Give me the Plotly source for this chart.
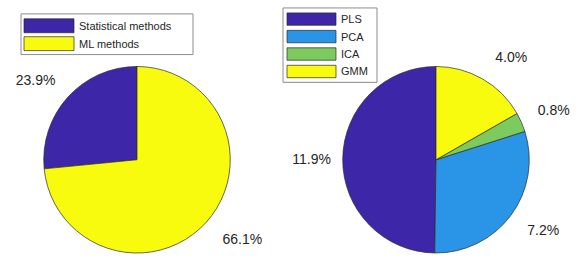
import math
import plotly.graph_objects as go

W, H = 578, 258

# ---- data ----
left_labels = ["Statistical methods", "ML methods"]
left_values = [23.9, 66.1]
left_colors = ["#3E26A8", "#F9FB0E"]

right_labels = ["PLS", "PCA", "ICA", "GMM"]
right_values = [11.9, 7.2, 0.8, 4.0]
right_colors = ["#3E26A8", "#2A95E6", "#7DCB5E", "#F9FB0E"]

FONT = "Liberation Sans, Arial, sans-serif"
NB = "&#160;"

def px_x(x):
    return x / W

def px_y(y):
    return 1 - y / H

fig = go.Figure()

def padded_texts(values):
    """Percent labels, padded on the side facing the pie so that they sit a
    little further out (as MATLAB's pie labels do)."""
    total = sum(values)
    out = []
    acc = 0.0
    for v in values:
        mid = 2 * math.pi * (acc + v / 2) / total  # ccw from 12 o'clock
        acc += v
        dx = -math.sin(mid)  # right positive
        dy = -math.cos(mid)  # down positive
        t = f"{v:.1f}%"
        n = 1 if dy < -0.5 else 2
        if dx > 0.2:
            t = NB * n + t
        elif dx < -0.2:
            t = t + NB * n
        if dy > 0.4:
            t = NB + "<br>" + t
        elif dy < -0.3:
            t = t + "<br>" + NB
        out.append(t)
    return out

def add_pie(labels, values, colors, cx, cy, r):
    # counterclockwise from 12 o'clock: Plotly ends the first slice at the
    # rotation angle, so rotate back by the first slice's angle
    first_angle = 360.0 * values[0] / sum(values)
    fig.add_trace(go.Pie(
        labels=labels, values=values, sort=False, direction="counterclockwise",
        rotation=-first_angle,
        marker=dict(colors=colors, line=dict(color="#2a2a2a", width=0.7)),
        text=padded_texts(values), textinfo="text", textposition="outside",
        textfont=dict(family=FONT, size=14, color="#262626"),
        showlegend=False, hoverinfo="label+value",
        domain=dict(x=[px_x(cx - r), px_x(cx + r)], y=[px_y(cy + r), px_y(cy - r)]),
    ))

add_pie(left_labels, left_values, left_colors, 137, 161, 94)
add_pie(right_labels, right_values, right_colors, 436, 161, 94)

shapes = []
annotations = []

def add_legend(labels, colors, box, sw_x0, sw_x1, row_y0, row_h, row_step, text_x):
    x0, y0, x1, y1 = box
    shapes.append(dict(type="rect", xref="paper", yref="paper",
                       x0=px_x(x0), x1=px_x(x1), y0=px_y(y1), y1=px_y(y0),
                       fillcolor="white", line=dict(color="#8c8c8c", width=1)))
    for i, (lab, col) in enumerate(zip(labels, colors)):
        ty = row_y0 + i * row_step
        shapes.append(dict(type="rect", xref="paper", yref="paper",
                           x0=px_x(sw_x0), x1=px_x(sw_x1),
                           y0=px_y(ty + row_h), y1=px_y(ty),
                           fillcolor=col, line=dict(color="#2a2a2a", width=0.7)))
        annotations.append(dict(xref="paper", yref="paper", x=px_x(text_x),
                                y=px_y(ty + row_h / 2), text=lab, showarrow=False,
                                xanchor="left", yanchor="middle",
                                font=dict(family=FONT, size=11, color="#262626")))

add_legend(left_labels, left_colors, (21, 14, 193, 55), 24, 74, 19, 14, 18, 77)
add_legend(right_labels, right_colors, (283, 8, 377, 83), 287, 336, 13, 12.5, 17.6, 339)

fig.update_layout(
    width=W, height=H, margin=dict(l=0, r=0, t=0, b=0),
    paper_bgcolor="white", plot_bgcolor="white",
    shapes=shapes, annotations=annotations,
    font=dict(family=FONT),
)

fig.write_html(
    "out.html",
    config={"displayModeBar": False},
    post_script="document.body.style.margin='0';document.body.style.overflow='hidden';",
)
